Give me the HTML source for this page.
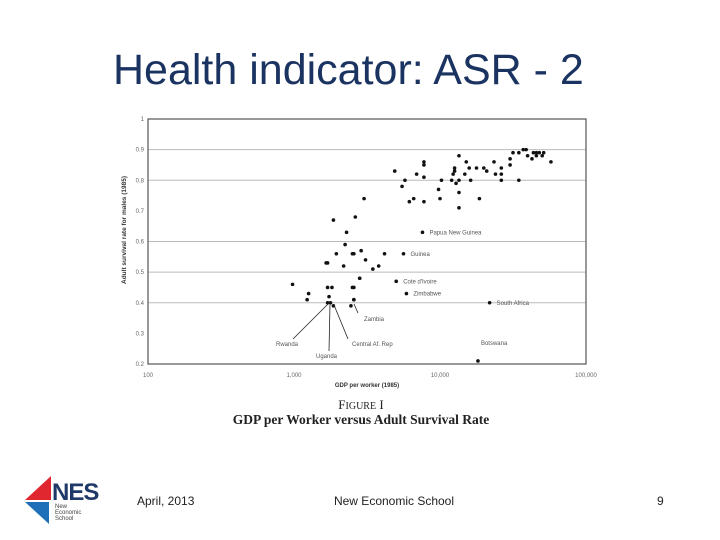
<!DOCTYPE html>
<html><head><meta charset="utf-8"><style>
html,body{margin:0;padding:0;background:#fff;width:720px;height:540px;overflow:hidden;font-family:"Liberation Sans",sans-serif}
</style></head><body>
<svg width="720" height="540" viewBox="0 0 720 540" xmlns="http://www.w3.org/2000/svg">
<text x="113" y="84" font-size="43" fill="#1a3360" font-family="Liberation Sans, sans-serif">Health indicator: ASR - 2</text>
<g id="chart"></g>
<text x="361" y="409" text-anchor="middle" font-family="Liberation Serif, serif" font-size="13" fill="#222">F<tspan font-size="10">IGURE</tspan> I</text>
<text x="361" y="424" text-anchor="middle" font-family="Liberation Serif, serif" font-size="13.5" font-weight="bold" fill="#222">GDP per Worker versus Adult Survival Rate</text>
<g>
<polygon points="25,500 51,476 51,500" fill="#e0262f"/>
<polygon points="25,502 49,502 49,524" fill="#1f6fb8"/>
<text x="52" y="500" font-size="24" font-weight="bold" fill="#1f3a68" letter-spacing="-1">NES</text>
<text x="55" y="508" font-size="6" fill="#444">New</text>
<text x="55" y="514" font-size="6" fill="#444">Economic</text>
<text x="55" y="520" font-size="6" fill="#444">School</text>
</g>
<text x="137" y="505" font-size="12" fill="#222">April, 2013</text>
<text x="394" y="505" text-anchor="middle" font-size="12" fill="#222">New Economic School</text>
<text x="657" y="505" font-size="12" fill="#222">9</text>
</svg>
<script>
const xTicks=[100,1000,10000,100000];
const xTickLabels=["100","1,000","10,000","100,000"];
const yTicks=[0.2,0.3,0.4,0.5,0.6,0.7,0.8,0.9,1];
const yTickLabels=["0.2","0.3","0.4","0.5","0.6","0.7","0.8","0.9","1"];
const gridVals=[0.4,0.5,0.6,0.8,0.9];
const logGdp=[2.99,3.09,3.10,3.27,3.42,3.36,3.35,3.29,3.22,3.23,3.34,3.41,3.23,3.26,3.41,3.24,3.23,3.25,3.27,3.39,3.41,3.45,3.48,3.40,3.46,3.49,3.54,3.58,3.62,3.45,3.40,3.41,
3.69,3.74,3.76,3.79,3.82,3.84,3.89,3.89,3.89,3.89,3.99,4.00,4.01,4.08,4.09,4.10,4.10,4.11,4.13,4.13,4.13,4.13,4.17,4.18,4.20,4.21,4.25,4.27,4.30,4.32,4.37,4.38,4.42,4.42,4.42,4.48,4.48,4.50,4.54,4.54,4.57,4.59,4.60,4.63,4.64,4.66,4.66,4.68,4.70,4.71,4.76];
const survival=[0.46,0.41,0.43,0.67,0.68,0.63,0.59,0.56,0.53,0.53,0.52,0.56,0.45,0.45,0.45,0.42,0.40,0.40,0.39,0.39,0.41,0.48,0.74,0.56,0.57,0.54,0.51,0.52,0.56,0.48,0.45,0.41,
0.83,0.78,0.80,0.73,0.74,0.82,0.86,0.85,0.81,0.73,0.77,0.74,0.80,0.80,0.82,0.84,0.83,0.79,0.88,0.80,0.76,0.71,0.82,0.86,0.84,0.80,0.84,0.74,0.84,0.83,0.86,0.82,0.84,0.82,0.80,0.87,0.85,0.89,0.89,0.80,0.90,0.90,0.88,0.87,0.89,0.89,0.88,0.89,0.88,0.89,0.86];
const labCountries=["Papua New Guinea","Guinea","Cote d'Ivoire","Zimbabwe","South Africa","Botswana"];
const labLogGdp=[3.88,3.75,3.70,3.77,4.34,4.26];
const labSurv=[0.63,0.56,0.47,0.43,0.40,0.21];
const X0=148,X1=586,Y0=364,Y1=119;
function xs(v){return X0+(Math.log10(v)-2)/3*(X1-X0);}
function xl(l){return X0+(l-2)/3*(X1-X0);}
function ys(v){return Y0-(v-0.2)/0.8*(Y0-Y1);}
const NS="http://www.w3.org/2000/svg";
const g=document.getElementById('chart');
function mk(t,a,txt){const e=document.createElementNS(NS,t);for(const k in a)e.setAttribute(k,a[k]);if(txt!==undefined)e.textContent=txt;g.appendChild(e);return e;}
gridVals.forEach(v=>{const e=mk('line',{x1:X0,x2:X1,y1:ys(v),y2:ys(v),stroke:'#bbb','stroke-width':1});

});
const fr=mk('rect',{x:X0,y:Y1,width:X1-X0,height:Y0-Y1,fill:'none',stroke:'#555','stroke-width':1.2});


yTicks.forEach((v,i)=>{const e=mk('text',{x:X0-4,y:ys(v)+2,'font-size':6,'text-anchor':'end',fill:'#666'},yTickLabels[i]);

});
xTicks.forEach((v,i)=>{const e=mk('text',{x:xs(v),y:Y0+13,'font-size':6,'text-anchor':'middle',fill:'#666'},xTickLabels[i]);

});
const xt=mk('text',{x:367,y:387,'font-size':6,'font-weight':'bold','text-anchor':'middle',fill:'#333'},'GDP per worker (1985)');


const yt=mk('text',{x:0,y:0,'font-size':6.5,'font-weight':'bold','text-anchor':'middle',fill:'#333',transform:'translate(126,230) rotate(-90)'},'Adult survival rate for males (1985)');


logGdp.forEach((l,i)=>{const e=mk('circle',{cx:xl(l),cy:ys(survival[i]),r:1.8,fill:'#111'});

});
labCountries.forEach((c,i)=>{const cx=xl(labLogGdp[i]),cy=ys(labSurv[i]);
const p=mk('circle',{cx:cx,cy:cy,r:1.8,fill:'#111'});


const ox=c==="Botswana"?3:7,oy=c==="Botswana"?-16:2;
const t=mk('text',{x:cx+ox,y:cy+oy,'font-size':6,fill:'#555'},c);

});
const leaders=[["Rwanda",276,346,293,339,330,302],["Uganda",316,358,329,351,330,304],["Central Af. Rep",352,346,348,339,334,305],["Zambia",364,321,358,313,354,304]];
leaders.forEach(d=>{const l=mk('line',{x1:d[3],y1:d[4],x2:d[5],y2:d[6],stroke:'#222','stroke-width':0.8});


const t=mk('text',{x:d[1],y:d[2],'font-size':6,fill:'#555'},d[0]);

});
</script>
</body></html>
